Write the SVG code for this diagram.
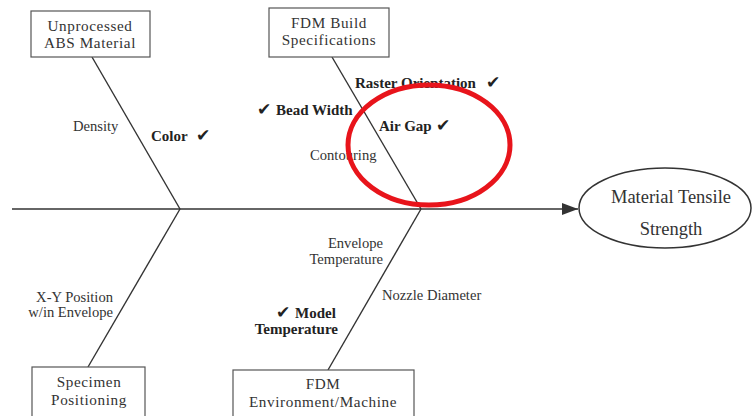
<svg xmlns="http://www.w3.org/2000/svg" width="755" height="416" viewBox="0 0 755 416">
  <style>
    .box { fill: #ffffff; stroke: #555555; stroke-width: 1.2; }
    .bone { fill: none; stroke: #333333; stroke-width: 1.4; }
    .t { font-family: "Liberation Serif", "Times New Roman", serif; font-size: 14.6px; fill: #333333; }
    .bx { font-family: "Liberation Serif", "Times New Roman", serif; font-size: 15.2px; letter-spacing: 0.6px; fill: #333333; }
    .b { font-family: "Liberation Serif", "Times New Roman", serif; font-size: 15px; font-weight: bold; fill: #222222; }
    .ck { font-family: "DejaVu Sans", sans-serif; font-size: 17px; fill: #222222; }
    .c { text-anchor: middle; }
    .e { text-anchor: end; }
  </style>
  <defs>
    <marker id="arrow" viewBox="0 0 16 12" refX="16" refY="6" markerWidth="16" markerHeight="12" markerUnits="userSpaceOnUse" orient="auto">
      <path d="M0,0 L16,6 L0,12 Z" fill="#333333"/>
    </marker>
  </defs>
  <rect width="755" height="416" fill="#ffffff"/>

  <!-- spine and bones -->
  <g id="connectors">
    <line class="bone" x1="12" y1="209" x2="578" y2="209" marker-end="url(#arrow)"/>
    <line class="bone" x1="92" y1="57" x2="180" y2="209"/>
    <line class="bone" x1="180" y1="209" x2="88" y2="367"/>
    <line class="bone" x1="332" y1="57" x2="421" y2="209"/>
    <line class="bone" x1="421" y1="209" x2="328" y2="370"/>
  </g>

  <!-- cause categories -->
  <g id="abs-material">
    <rect class="box" x="31" y="11" width="119" height="46"/>
    <text class="bx c" x="90" y="31">Unprocessed</text>
    <text class="bx c" x="90" y="48">ABS Material</text>
  </g>
  <g id="build-specs">
    <rect class="box" x="269" y="8" width="120" height="49"/>
    <text class="bx c" x="329" y="28">FDM Build</text>
    <text class="bx c" x="329" y="45">Specifications</text>
  </g>
  <g id="specimen-positioning">
    <rect class="box" x="32" y="367" width="113" height="60"/>
    <text class="bx c" x="89" y="387">Specimen</text>
    <text class="bx c" x="89" y="405">Positioning</text>
  </g>
  <g id="environment-machine">
    <rect class="box" x="233" y="370" width="181" height="60"/>
    <text class="bx c" x="323" y="389">FDM</text>
    <text class="bx c" x="323" y="407">Environment/Machine</text>
  </g>

  <!-- effect -->
  <g id="tensile-strength">
    <ellipse cx="665" cy="208" rx="86" ry="40" fill="#ffffff" stroke="#333333" stroke-width="1.5"/>
    <text class="c" x="671" y="203" font-family="Liberation Serif, serif" font-size="18.5" fill="#333333">Material Tensile</text>
    <text class="c" x="671" y="235" font-family="Liberation Serif, serif" font-size="18.5" fill="#333333">Strength</text>
  </g>

  <!-- factors -->
  <g id="factors">
    <text class="t" x="73" y="131">Density</text>
    <text class="b" x="151" y="141">Color</text>
    <text class="ck" x="196" y="141">✔</text>

    <text class="b" x="355" y="88">Raster Orientation</text>
    <text class="ck" x="486" y="88">✔</text>
    <text class="ck" x="257" y="115">✔</text>
    <text class="b" x="276" y="115">Bead Width</text>
    <text class="b" x="379" y="131">Air Gap</text>
    <text class="ck" x="436" y="131">✔</text>
    <text class="t" x="310" y="160">Contouring</text>

    <text class="t e" x="383" y="248">Envelope</text>
    <text class="t e" x="383" y="264">Temperature</text>
    <text class="t" x="382" y="300">Nozzle Diameter</text>
    <text class="ck" x="276" y="318">✔</text>
    <text class="b" x="295" y="318">Model</text>
    <text class="b e" x="338" y="334">Temperature</text>

    <text class="t e" x="113" y="302">X-Y Position</text>
    <text class="t e" x="113" y="317">w/in Envelope</text>
  </g>

  <!-- highlight mark -->
  <ellipse id="highlight" cx="429" cy="145" rx="81" ry="60" fill="none" stroke="#e8141b" stroke-width="5"/>
</svg>
